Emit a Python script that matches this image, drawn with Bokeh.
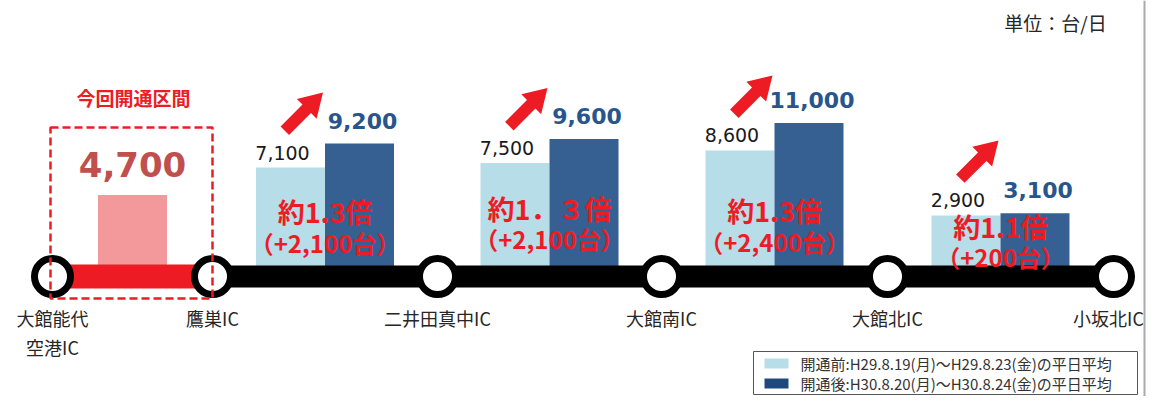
import numpy as np
from bokeh.plotting import figure
from bokeh.models import Range1d
from bokeh.core.properties import value
from bokeh.embed import file_html
from bokeh.resources import INLINE

# ---------------- data ----------------
stations = ["大館能代\n空港IC", "鷹巣IC", "二井田真中IC", "大館南IC", "大館北IC", "小坂北IC"]
new_section_title = "今回開通区間"
new_section_value = [4700]
before = [7100, 7500, 8600, 2900]      # 開通前
after = [9200, 9600, 11000, 3100]      # 開通後
ratio_labels = ["約1.3倍", "約1．３倍", "約1.3倍", "約1.1倍"]
unit_label = "単位：台/日"
legend_labels = ["開通前:H29.8.19(月)～H29.8.23(金)の平日平均",
                 "開通後:H30.8.20(月)～H30.8.24(金)の平日平均"]

before_text = [f"{v:,}" for v in before]
after_text = [f"{v:,}" for v in after]
new_text = [f"{v:,}" for v in new_section_value]
diff_text = [f"（+{a - b:,}台）" for a, b in zip(after, before)]

# ---------------- layout ----------------
W, H = 1146, 396
station_x = [52, 212, 437, 661, 887, 1113]
label_x = [min(x, W - 38) for x in station_x]
LINE_Y = 276
mids = [(station_x[i] + station_x[i + 1]) / 2 for i in range(len(station_x) - 1)]
new_mid = mids[0]
grp_mid = mids[1:]
BW = 69
light_x = [m - BW / 2 for m in grp_mid]
dark_x = [m + BW / 2 for m in grp_mid]

# value scale (truncated axis: bars start behind the road line)
ZERO_PX = 248.0
PX_PER_UNIT = 0.0114
VAL_TOP = ZERO_PX / PX_PER_UNIT
VAL_BOTTOM = (ZERO_PX - H) / PX_PER_UNIT
BASE_VAL = (ZERO_PX - LINE_Y) / PX_PER_UNIT


def px(v):
    return ZERO_PX - v * PX_PER_UNIT


RED = "#ed1c24"
LIGHT = "#b7dde8"
DARK = "#376092"
JP = value("Noto Sans CJK JP")
NUM = value("DejaVu Sans")

p = figure(width=W, height=H, x_range=Range1d(0, W), y_range=Range1d(H, 0),
           output_backend="svg", toolbar_location=None, min_border=0,
           x_axis_location=None, y_axis_location=None)
p.grid.visible = False
p.outline_line_color = None
p.background_fill_color = "white"
p.extra_y_ranges = {"val": Range1d(VAL_BOTTOM, VAL_TOP)}

# bars
p.vbar(x=[new_mid], width=BW, top=new_section_value, bottom=BASE_VAL,
       y_range_name="val", fill_color="#f4999b", line_color=None)
p.vbar(x=light_x, width=BW, top=before, bottom=BASE_VAL,
       y_range_name="val", fill_color=LIGHT, line_color=None)
p.vbar(x=dark_x, width=BW, top=after, bottom=BASE_VAL,
       y_range_name="val", fill_color=DARK, line_color=None)

# road line
p.quad(left=[station_x[1]], right=[station_x[-1]], top=[LINE_Y - 11], bottom=[LINE_Y + 11],
       fill_color="black", line_color=None)
p.quad(left=[station_x[0]], right=[station_x[1]], top=[LINE_Y - 12], bottom=[LINE_Y + 12],
       fill_color=RED, line_color=None)
p.circle(x=station_x, y=[LINE_Y] * len(station_x), radius=18,
         fill_color="white", line_color="black", line_width=7)

# dashed box of new section
p.quad(left=[station_x[0] - 2], right=[station_x[1]], top=[127], bottom=[298],
       fill_alpha=0, line_color=RED, line_width=2.5, line_dash="8 4")
p.text(x=[new_mid + 1], y=[97], text=[new_section_title], text_font=JP,
       text_font_style="bold", text_font_size="19px", text_color=RED,
       text_align="center", text_baseline="middle")

# value labels
p.text(x=[new_mid], y=new_section_value, text=new_text, y_range_name="val",
       y_offset=-30, text_font=NUM, text_font_style="bold", text_font_size="34px",
       text_color="#c0504d", text_align="center", text_baseline="middle")
p.text(x=light_x, y=before, text=before_text, y_range_name="val",
       x_offset=-8, y_offset=-15, text_font=NUM, text_font_size="19px",
       text_color="#1a1a1a", text_align="center", text_baseline="middle")
p.text(x=dark_x, y=after, text=after_text, y_range_name="val",
       x_offset=3, y_offset=-23, text_font=NUM, text_font_style="bold",
       text_font_size="22px", text_color="#28558c", text_align="center",
       text_baseline="middle")

# ratio labels
row1 = [211, 208, 210, 226]
row2 = [242, 238, 241, 256]
ratio_kw = dict(text_font=JP, text_font_style="bold", text_color=RED,
                text_align="center", text_baseline="middle")
p.text(x=grp_mid, y=row1, text=ratio_labels, text_font_size="27px", **ratio_kw)
p.text(x=grp_mid, y=row2, text=diff_text, text_font_size="24px", **ratio_kw)

# arrows
xs, ys = [], []
L, HL, BWd, HW = 54.0, 23.0, 12.0, 28.0
u = np.array([1.0, -1.0]) / np.sqrt(2)
n = np.array([1.0, 1.0]) / np.sqrt(2)
for m, v in zip(grp_mid, before):
    tip = np.array([m - 2, px(v) - 75])
    tail = tip - u * L
    neck = tip - u * HL
    pts = [tail + n * BWd / 2, neck + n * BWd / 2, neck + n * HW / 2, tip,
           neck - n * HW / 2, neck - n * BWd / 2, tail - n * BWd / 2]
    xs.append([q[0] for q in pts])
    ys.append([q[1] for q in pts])
p.patches(xs=xs, ys=ys, fill_color=RED, line_color=None)

# station labels
p.text(x=label_x, y=[304] * len(station_x), text=stations, text_font=JP,
       text_font_size="18px", text_color="#262626", text_align="center",
       text_baseline="top", text_line_height=1.15)

# unit
p.text(x=[1055], y=[22], text=[unit_label], text_font=JP, text_font_size="19px",
       text_color="#262626", text_align="center", text_baseline="middle")

# legend
p.quad(left=[753], right=[1137], top=[351], bottom=[394], fill_color="white",
       line_color="#555555", line_width=1)
p.quad(left=[764, 764], right=[788, 788], top=[358, 378], bottom=[368, 388],
       fill_color=[LIGHT, "#1f497d"], line_color=None)
p.text(x=[800, 800], y=[363, 383], text=legend_labels, text_font=JP,
       text_font_size="15px", text_color="#333333", text_align="left",
       text_baseline="middle")

# right border line
p.segment(x0=[W - 2], y0=[0], x1=[W - 2], y1=[H], line_color="#aaaaaa", line_width=2)

open("out.html", "w").write(file_html(p, INLINE))
